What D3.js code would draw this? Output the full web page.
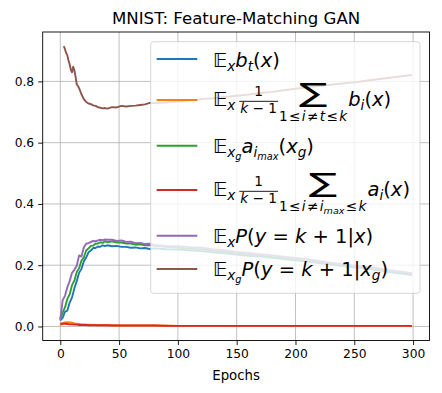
<!DOCTYPE html>
<html>
<head>
<meta charset="utf-8">
<script src="https://cdn.jsdelivr.net/npm/d3@7"></script>
<style>
  body { margin: 0; background: #fff; }
  text { font-family: "DejaVu Sans", sans-serif; white-space: pre; }
</style>
</head>
<body>
<div id="chart"></div>
<script>
// sampled epochs for the curves that start at epoch 0
var epochs = [0,2,4,6,8,10,12,14,16,18,20,22,24,26,28,30,32,34,36,38,40,44,48,52,56,60,64,68,72,76,80,90,100,110,120,130,140,150,160,170,180,190,200,210,220,230,240,250,260,270,280,290,299];
var blueVals = [0.02,0.028,0.048,0.052,0.078,0.095,0.125,0.148,0.175,0.188,0.212,0.225,0.242,0.248,0.256,0.256,0.261,0.26,0.265,0.262,0.265,0.262,0.263,0.26,0.26,0.257,0.258,0.255,0.256,0.253,0.255,0.252,0.251,0.249,0.246,0.242,0.239,0.235,0.231,0.228,0.224,0.22,0.216,0.212,0.207,0.202,0.197,0.193,0.188,0.183,0.178,0.173,0.168];
var orangeVals = [0.003,0.01,0.013,0.014,0.013,0.012,0.01,0.009,0.008,0.007,0.007,0.006,0.006,0.005,0.005,0.005,0.004,0.004,0.004,0.004,0.004,0.004,0.003,0.003,0.003,0.003,0.003,0.003,0.003,0.003,0.003,0.003,0.002,0.002,0.002,0.002,0.002,0.002,0.002,0.002,0.002,0.002,0.002,0.002,0.002,0.002,0.002,0.002,0.002,0.002,0.002,0.002,0.002];
var greenVals = [0.026,0.045,0.062,0.09,0.105,0.135,0.15,0.178,0.19,0.215,0.225,0.248,0.255,0.263,0.264,0.27,0.271,0.275,0.273,0.278,0.275,0.278,0.274,0.274,0.271,0.271,0.267,0.268,0.265,0.266,0.263,0.26,0.257,0.254,0.252,0.247,0.244,0.239,0.235,0.232,0.227,0.223,0.219,0.215,0.21,0.205,0.2,0.196,0.191,0.186,0.181,0.176,0.171];
var redVals = [0.01,0.009,0.009,0.008,0.007,0.007,0.006,0.006,0.005,0.005,0.005,0.005,0.004,0.004,0.004,0.004,0.004,0.004,0.004,0.004,0.004,0.003,0.003,0.003,0.003,0.003,0.003,0.003,0.003,0.003,0.003,0.002,0.002,0.002,0.002,0.002,0.002,0.002,0.002,0.002,0.002,0.002,0.002,0.002,0.002,0.002,0.002,0.002,0.002,0.002,0.002,0.002,0.002];
var purpleVals = [0.02,0.085,0.1,0.128,0.148,0.175,0.185,0.198,0.232,0.228,0.258,0.27,0.272,0.276,0.279,0.278,0.281,0.283,0.282,0.284,0.283,0.283,0.279,0.281,0.276,0.277,0.272,0.273,0.269,0.27,0.266,0.263,0.262,0.259,0.257,0.252,0.249,0.243,0.24,0.236,0.232,0.228,0.224,0.22,0.214,0.208,0.203,0.199,0.195,0.19,0.184,0.179,0.174];
// the generated-sample curve starts a few epochs later
var brownEpochs = [3,4,5,6,7,8,9,10,11,12,13,14,15,16,18,20,22,24,26,28,30,32,34,36,38,40,44,48,52,56,60,64,68,72,76,80,90,100,110,120,130,140,150,160,170,180,190,200,210,220,230,240,250,260,270,280,290,299];
var brownVals = [0.915,0.905,0.893,0.885,0.868,0.855,0.838,0.83,0.848,0.836,0.815,0.79,0.785,0.778,0.758,0.742,0.733,0.728,0.726,0.722,0.72,0.716,0.714,0.712,0.713,0.711,0.716,0.715,0.72,0.718,0.72,0.721,0.723,0.725,0.73,0.729,0.731,0.735,0.738,0.742,0.745,0.749,0.753,0.757,0.762,0.766,0.771,0.776,0.781,0.785,0.789,0.793,0.797,0.802,0.807,0.812,0.817,0.821];

var xTicks = [0,50,100,150,200,250,300];
var yTicks = [0,0.2,0.4,0.6,0.8];

function init() {
    var w = 442, h = 393;
    var left = 42.7, right = 429.5, top = 32, bottom = 340.5;

    var svg = d3.select("#chart").append("svg")
                .attr("width", w).attr("height", h);

    var x = d3.scaleLinear().domain([-14.95, 313.95]).range([left, right]);
    var y = d3.scaleLinear().domain([-0.0458, 0.9613]).range([bottom, top]);

    // grid
    svg.append("g").selectAll("line.gx").data(xTicks).enter().append("line")
        .attr("x1", function(d) { return x(d); }).attr("x2", function(d) { return x(d); })
        .attr("y1", top).attr("y2", bottom)
        .attr("stroke", "#b0b0b0").attr("stroke-width", 0.8);
    svg.append("g").selectAll("line.gy").data(yTicks).enter().append("line")
        .attr("y1", function(d) { return y(d); }).attr("y2", function(d) { return y(d); })
        .attr("x1", left).attr("x2", right)
        .attr("stroke", "#b0b0b0").attr("stroke-width", 0.8);

    // curves
    var series = [
        {xs: epochs, ys: blueVals, c: "#1f77b4"},
        {xs: epochs, ys: orangeVals, c: "#ff7f0e"},
        {xs: epochs, ys: greenVals, c: "#2ca02c"},
        {xs: epochs, ys: redVals, c: "#d62728"},
        {xs: epochs, ys: purpleVals, c: "#9467bd"},
        {xs: brownEpochs, ys: brownVals, c: "#8c564b"}
    ];
    var line = d3.line()
                .x(function(d) { return x(d[0]); })
                .y(function(d) { return y(d[1]); });
    series.forEach(function(s) {
        svg.append("path")
            .attr("d", line(d3.zip(s.xs, s.ys)))
            .attr("fill", "none")
            .attr("stroke", s.c)
            .attr("stroke-width", 1.9)
            .attr("stroke-linejoin", "round");
    });

    // axes
    var xAxis = svg.append("g").attr("transform", "translate(0," + bottom + ")")
        .call(d3.axisBottom(x).tickValues(xTicks).tickSize(4.5).tickPadding(4).tickFormat(d3.format("d")));
    var yAxis = svg.append("g").attr("transform", "translate(" + left + ",0)")
        .call(d3.axisLeft(y).tickValues(yTicks).tickSize(4.5).tickPadding(4).tickFormat(d3.format(".1f")));
    [xAxis, yAxis].forEach(function(a) {
        a.select(".domain").remove();
        a.selectAll("text").style("font-size", "12.3px").attr("fill", "#000");
        a.selectAll("line").attr("stroke", "#000").attr("stroke-width", 0.9);
    });
    svg.append("rect").attr("x", left).attr("y", top)
        .attr("width", right - left).attr("height", bottom - top)
        .attr("fill", "none").attr("stroke", "#000").attr("stroke-width", 0.9);

    svg.append("text").attr("x", (left + right) / 2).attr("y", 24)
        .attr("text-anchor", "middle").style("font-size", "16.6px")
        .text("MNIST: Feature-Matching GAN");
    svg.append("text").attr("x", (left + right) / 2).attr("y", 380)
        .attr("text-anchor", "middle").style("font-size", "13.3px")
        .text("Epochs");

    // legend
    var lg = svg.append("g");
    lg.append("rect").attr("x", 150.7).attr("y", 41.7).attr("width", 269.3).attr("height", 251.6)
        .attr("rx", 3).attr("fill", "#fff").attr("fill-opacity", 0.8)
        .attr("stroke", "#cccccc").attr("stroke-opacity", 0.8).attr("stroke-width", 1);

    var F = 19.5;
    var E = {t: "\uD835\uDD3C"};
    function it(t, lv) { return {t: t, i: 1, lv: lv || 0}; }
    function up(t, lv) { return {t: t, i: 0, lv: lv || 0}; }
    var rel = function(s) { return up("\u200A" + s + "\u200A"); };
    var fracTok = {frac: [[up("1")], [it("k"), up(" \u2212 1")]]};
    var rows = [
        {y: 59, base: 66.5, c: "#1f77b4", toks: [E, it("x", 1), it("b"), it("t", 1), up("("), it("x"), up(")")]},
        {y: 100, base: 106, c: "#ff7f0e", toks: [E, it("x", 1), fracTok,
            {sum: [up("1"), rel("\u2264"), it("i"), rel("\u2260"), it("t"), rel("\u2264"), it("k")]},
            it("b"), it("i", 1), up("("), it("x"), up(")")]},
        {y: 145.7, base: 152.5, c: "#2ca02c", toks: [E, it("x", 1), it("g", 2), it("a"), it("i", 1), it("max", 2), up("("), it("x"), it("g", 1), up(")")]},
        {y: 190, base: 196, c: "#d62728", toks: [E, it("x", 1), fracTok,
            {sum: [up("1"), rel("\u2264"), it("i"), rel("\u2260"), it("i"), it("max", 1), rel("\u2264"), it("k")]},
            it("a"), it("i", 1), up("("), it("x"), up(")")]},
        {y: 235.7, base: 242.5, c: "#9467bd", toks: [E, it("x", 1), it("P"), up("("), it("y"), up(" = "), it("k"), up(" + 1|"), it("x"), up(")")]},
        {y: 269, base: 276, c: "#8c564b", toks: [E, it("x", 1), it("g", 2), it("P"), up("("), it("y"), up(" = "), it("k"), up(" + 1|"), it("x"), it("g", 1), up(")")]}
    ];

    // ink box of the summation sign, so it can be fitted exactly
    var ctx = document.createElement("canvas").getContext("2d");
    ctx.font = "100px 'DejaVu Sans'";
    var sm = ctx.measureText("\u2211");
    var sAsc = sm.actualBoundingBoxAscent, sDesc = sm.actualBoundingBoxDescent;
    var sL = sm.actualBoundingBoxLeft, sR = sm.actualBoundingBoxRight;

    var sizes = [1, 0.7, 0.5], drops = [0, 0.22, 0.36];
    // lays out a token run starting at (x0, y0), returns its width
    function lay(g, x0, y0, toks, bs) {
        var cx = x0;
        toks.forEach(function(tk) {
            if (tk.frac) {
                var sub = bs * 0.7;
                var gn = g.append("g"), gd = g.append("g");
                var wn = lay(gn, 0, y0 - 0.53 * bs, tk.frac[0], sub);
                var wd = lay(gd, 0, y0 + 0.38 * bs, tk.frac[1], sub);
                var fw = Math.max(wn, wd) + 2;
                var fx = cx + 4;
                gn.attr("transform", "translate(" + (fx + (fw - wn) / 2) + ",0)");
                gd.attr("transform", "translate(" + (fx + (fw - wd) / 2) + ",0)");
                g.append("line").attr("x1", fx).attr("x2", fx + fw)
                    .attr("y1", y0 - 0.24 * bs).attr("y2", y0 - 0.24 * bs)
                    .attr("stroke", "#000").attr("stroke-width", 0.9);
                cx = fx + fw + 1;
            } else if (tk.sum) {
                var gl = g.append("g");
                var wl = lay(gl, 0, y0 + 0.76 * bs, tk.sum, bs * 0.7);
                var inkH = 1.23 * bs, inkW = 1.4 * bs;
                var k = inkH / (sAsc + sDesc);
                var sx = inkW / ((sL + sR) * k);
                var bw = Math.max(wl, inkW);
                var tx = cx + (bw - inkW) / 2 + sL * k * sx;
                var by = y0 + 1.3 - sDesc * k;
                g.append("text").attr("x", 0).attr("y", 0)
                    .attr("transform", "translate(" + tx + "," + by + ") scale(" + sx + ",1)")
                    .style("font-size", (100 * k) + "px").text("\u2211");
                gl.attr("transform", "translate(" + (cx + (bw - wl) / 2) + ",0)");
                cx += bw + 1;
            } else {
                var lv = tk.lv || 0;
                var t = g.append("text").attr("x", cx).attr("y", y0 + drops[lv] * bs)
                    .style("font-size", (bs * sizes[lv]) + "px")
                    .style("font-style", tk.i ? "italic" : "normal")
                    .text(tk.t);
                cx += t.node().getComputedTextLength();
            }
        });
        return cx - x0;
    }

    rows.forEach(function(r) {
        lg.append("line").attr("x1", 156.7).attr("x2", 197.3)
            .attr("y1", r.y).attr("y2", r.y)
            .attr("stroke", r.c).attr("stroke-width", 1.9);
        lay(lg.append("g"), 213, r.base, r.toks, F);
    });
}

window.onload = init;
</script>
</body>
</html>
